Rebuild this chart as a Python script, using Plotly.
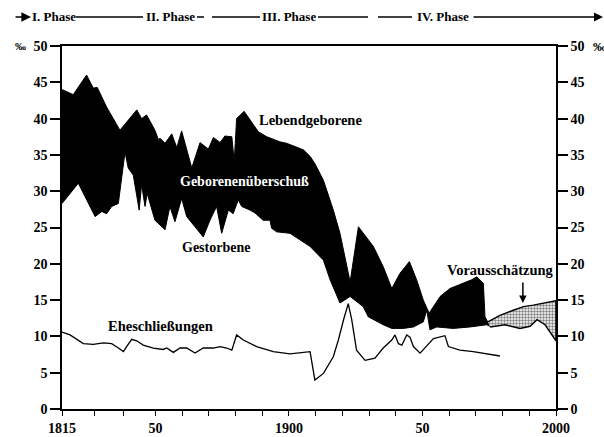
import plotly.graph_objects as go

# ---- data (year, per mille) ----
birth_years = [1815.0, 1819.2, 1824.2, 1826.7, 1828.2, 1831.7, 1836.7, 1843.0, 1844.8, 1846.7,
               1849.8, 1851.1, 1851.7, 1853.6, 1856.1, 1858.0, 1859.8, 1861.7, 1863.6, 1866.7,
               1869.8, 1871.7, 1874.2, 1876.0, 1878.6, 1879.5, 1880.4, 1883.2, 1886.6, 1888.5,
               1891.7, 1896.6, 1899.1, 1905.4, 1907.9, 1909.7, 1912.9, 1916.6, 1919.1, 1921.6,
               1922.9, 1926.0, 1927.8, 1931.6, 1935.3, 1938.5, 1941.6, 1945.1, 1947.8, 1950.3,
               1952.5, 1956.6, 1960.3, 1965.3, 1968.4, 1970.3, 1972.8, 1973.4, 1974.5]
birth_rate = [44.0, 43.3, 46.0, 44.2, 44.3, 41.6, 38.4, 41.2, 40.0, 40.5,
              38.4, 37.1, 37.3, 36.6, 37.9, 36.0, 38.3, 35.7, 33.2, 36.7,
              35.8, 37.4, 36.7, 37.6, 37.5, 34.1, 40.0, 41.0, 39.1, 38.2,
              37.5, 36.8, 36.6, 35.7, 34.8, 33.8, 31.5, 27.4, 24.2, 19.6,
              17.5, 25.1, 24.2, 22.4, 19.6, 16.6, 18.7, 20.3, 17.8, 15.0,
              13.2, 15.5, 16.6, 17.3, 17.8, 18.2, 17.3, 12.7, 12.0]

death_years = [1815.0, 1821.1, 1824.2, 1827.4, 1829.9, 1831.7, 1833.6, 1836.1, 1838.6, 1839.8,
               1841.7, 1843.9, 1844.8, 1846.1, 1846.9, 1849.8, 1853.6, 1855.4, 1857.3, 1859.8,
               1861.7, 1864.8, 1867.9, 1870.4, 1872.9, 1874.8, 1877.3, 1879.1, 1881.0, 1882.3,
               1885.4, 1887.3, 1890.3, 1892.9, 1893.5, 1895.4, 1900.4, 1904.1, 1907.9, 1912.9,
               1915.4, 1916.6, 1919.1, 1922.9, 1927.8, 1929.7, 1931.6, 1935.3, 1938.5, 1942.8,
               1946.6, 1950.3, 1951.6, 1952.8, 1955.3, 1961.5, 1967.8, 1974.0, 1975.3]
death_rate = [28.3, 31.1, 28.8, 26.5, 27.2, 26.9, 27.9, 28.3, 35.4, 33.2,
              32.2, 27.4, 30.9, 27.9, 29.7, 26.0, 24.7, 27.9, 25.8, 29.0,
              26.5, 25.1, 23.7, 26.0, 27.9, 24.2, 27.4, 26.9, 28.8, 27.9,
              27.4, 27.0, 26.0, 26.0, 24.9, 24.4, 24.2, 23.3, 22.4, 20.5,
              17.8, 16.8, 14.6, 15.5, 14.1, 12.7, 12.3, 11.6, 11.1, 11.1,
              11.3, 12.0, 13.6, 10.9, 11.3, 11.1, 11.3, 11.6, 11.4]

# projection (Vorausschätzung)
proj_upper_years = [1974.5, 1979.0, 1984.0, 1987.8, 1991.5, 1995.2, 2000.0]
proj_upper = [12.0, 12.9, 13.6, 14.1, 14.3, 14.6, 14.9]
proj_lower_years = [1975.3, 1980.9, 1986.5, 1990.3, 1992.9, 1995.9, 1998.1, 2000.0]
proj_lower = [11.3, 11.6, 11.1, 11.4, 12.3, 11.6, 10.5, 9.4]

marriage_years = [1815.0, 1818.0, 1823.0, 1826.7, 1830.5, 1833.6, 1836.1, 1838.0, 1839.2, 1841.1,
                  1843.0, 1845.4, 1849.2, 1852.9, 1854.2, 1856.7, 1859.2, 1861.7, 1864.8, 1867.9,
                  1871.7, 1874.2, 1876.7, 1878.6, 1880.4, 1882.9, 1887.9, 1894.1, 1900.4, 1906.6,
                  1907.9, 1909.7, 1912.9, 1916.6, 1918.5, 1920.6, 1922.2, 1923.5, 1925.3, 1928.5,
                  1932.2, 1935.3, 1938.5, 1939.7, 1941.0, 1942.3, 1944.1, 1945.3, 1946.6, 1949.1,
                  1954.1, 1958.4, 1959.7, 1964.0, 1969.0, 1979.0]
marriage_rate = [10.6, 10.2, 9.0, 8.9, 9.1, 9.0, 8.4, 7.9, 8.6, 9.6,
                 9.4, 8.8, 8.4, 8.2, 8.4, 7.8, 8.4, 8.4, 7.7, 8.4,
                 8.4, 8.6, 8.4, 8.1, 10.2, 9.5, 8.6, 7.9, 7.6, 7.9,
                 7.9, 4.0, 4.9, 7.2, 9.5, 12.5, 14.5, 12.3, 8.1, 6.7,
                 7.0, 8.4, 9.5, 10.2, 9.0, 8.8, 10.2, 9.9, 8.6, 7.7,
                 9.7, 10.1, 8.6, 8.1, 7.9, 7.3]

y_ticks = [0, 5, 10, 15, 20, 25, 30, 35, 40, 45, 50]
x_tick_vals = [1815, 1827, 1838, 1850, 1860, 1870, 1880, 1890, 1900, 1910, 1920, 1930,
               1940, 1950, 1960, 1970, 1980, 1990, 2000]
x_tick_text = ["1815", "", "", "50", "", "", "", "", "1900", "", "", "",
               "", "50", "", "", "", "", "2000"]

phases = ["I. Phase", "II. Phase", "III. Phase", "IV. Phase"]

FONT = "Liberation Serif"

fig = go.Figure()

# black area between birth and death rates
fig.add_trace(go.Scatter(
    x=birth_years + death_years[::-1],
    y=birth_rate + death_rate[::-1],
    fill="toself", fillcolor="black", mode="lines",
    line=dict(color="black", width=1), hoverinfo="skip", showlegend=False))

# projection area, dotted
fig.add_trace(go.Scatter(
    x=proj_upper_years + proj_lower_years[::-1],
    y=proj_upper + proj_lower[::-1],
    fill="toself", fillcolor="white", mode="lines",
    fillpattern=dict(shape=".", fgcolor="black", bgcolor="white", size=3, solidity=0.5),
    line=dict(color="black", width=1.4), hoverinfo="skip", showlegend=False))

# marriage rate
fig.add_trace(go.Scatter(
    x=marriage_years, y=marriage_rate, mode="lines",
    line=dict(color="black", width=1.3), hoverinfo="skip", showlegend=False))

# dummy trace for right axis
fig.add_trace(go.Scatter(x=[1815], y=[0], yaxis="y2", mode="markers",
                         marker=dict(opacity=0), hoverinfo="skip", showlegend=False))

tickfont = dict(family=FONT, size=14, color="black")
y_tick_text = ["<b>%d</b>" % v for v in y_ticks]
x_tick_text_b = ["<b>%s</b>" % t if t else "" for t in x_tick_text]

fig.update_layout(
    width=604, height=437,
    margin=dict(l=62, r=48, t=46, b=28, autoexpand=False),
    paper_bgcolor="white", plot_bgcolor="white",
    font=dict(family=FONT, color="black"),
    xaxis=dict(range=[1815, 2000], showgrid=False, zeroline=False, automargin=False,
               showline=True, linecolor="black", linewidth=1.5, mirror=True,
               ticks="outside", ticklen=5, tickwidth=1.2, tickcolor="black",
               tickvals=x_tick_vals, ticktext=x_tick_text_b,
               tickfont=tickfont),
    yaxis=dict(range=[0, 50], showgrid=False, zeroline=False, automargin=False,
               showline=True, linecolor="black", linewidth=1.5,
               ticks="outside", ticklen=10, tickwidth=1.5, tickcolor="black",
               tickvals=y_ticks, ticktext=y_tick_text, tickfont=tickfont),
    yaxis2=dict(range=[0, 50], overlaying="y", side="right", showgrid=False,
                zeroline=False, automargin=False, showline=True, linecolor="black",
                linewidth=1.5, ticks="outside", ticklen=10, tickwidth=1.5,
                tickcolor="black", tickvals=y_ticks, ticktext=y_tick_text,
                tickfont=tickfont),
)

def px2paper_x(px):
    return (px - 62) / 494.0

def py2paper_y(py):
    return (409 - py) / 363.0

hdr_y = py2paper_y(17)
hdr_font = dict(family=FONT, size=13, color="black")
phase_centers = [53.5, 170, 289, 442.5]
for name, cx in zip(phases, phase_centers):
    fig.add_annotation(x=px2paper_x(cx), y=hdr_y, xref="paper", yref="paper",
                       text="<b>%s</b>" % name, showarrow=False, font=hdr_font,
                       xanchor="center", yanchor="middle")

# header connector lines
segs = [(76, 143), (197, 204), (212, 260), (318, 368), (378, 412)]
for a, b in segs:
    fig.add_shape(type="line", xref="paper", yref="paper",
                  x0=px2paper_x(a), x1=px2paper_x(b), y0=hdr_y, y1=hdr_y,
                  line=dict(color="black", width=1.5))
# arrows at both ends
fig.add_annotation(x=px2paper_x(31), y=hdr_y, xref="paper", yref="paper",
                   ax=-17, ay=0, text="", showarrow=True, arrowhead=2,
                   arrowsize=1.2, arrowwidth=1.6, arrowcolor="black")
fig.add_annotation(x=px2paper_x(603), y=hdr_y, xref="paper", yref="paper",
                   ax=-131, ay=0, text="", showarrow=True, arrowhead=2,
                   arrowsize=1.2, arrowwidth=1.5, arrowcolor="black")

# unit marks
fig.add_annotation(x=px2paper_x(20), y=1.0, xref="paper", yref="paper",
                   text="<b>‰</b>", showarrow=False, font=dict(family=FONT, size=11),
                   xanchor="center", yanchor="middle")
fig.add_annotation(x=px2paper_x(591), y=1.0, xref="paper", yref="paper",
                   text="<b>‰</b>", showarrow=False, font=dict(family=FONT, size=13),
                   xanchor="left", yanchor="middle")

lab_font = dict(family=FONT, size=14.5, color="black")
fig.add_annotation(x=1907.9, y=39.8, text="<b>Lebendgeborene</b>", showarrow=False,
                   font=lab_font)
fig.add_annotation(x=1883.2, y=31.3, text="<b>Geborenenüberschuß</b>", showarrow=False,
                   font=dict(family=FONT, size=14, color="white"))
fig.add_annotation(x=1872.7, y=22.2, text="<b>Gestorbene</b>", showarrow=False,
                   font=dict(family=FONT, size=14, color="black"))
fig.add_annotation(x=1851.7, y=11.4, text="<b>Eheschließungen</b>", showarrow=False,
                   font=lab_font)
fig.add_annotation(x=1979.4, y=19.1, text="<b>Vorausschätzung</b>", showarrow=False,
                   font=lab_font)
fig.add_annotation(x=1987.6, y=14.6, ax=0, ay=-22, text="", showarrow=True,
                   arrowhead=2, arrowsize=1, arrowwidth=1.5, arrowcolor="black")

fig.write_html("out.html", config={"displayModeBar": False},
               post_script="document.body.style.margin='0';document.body.style.padding='0';")
